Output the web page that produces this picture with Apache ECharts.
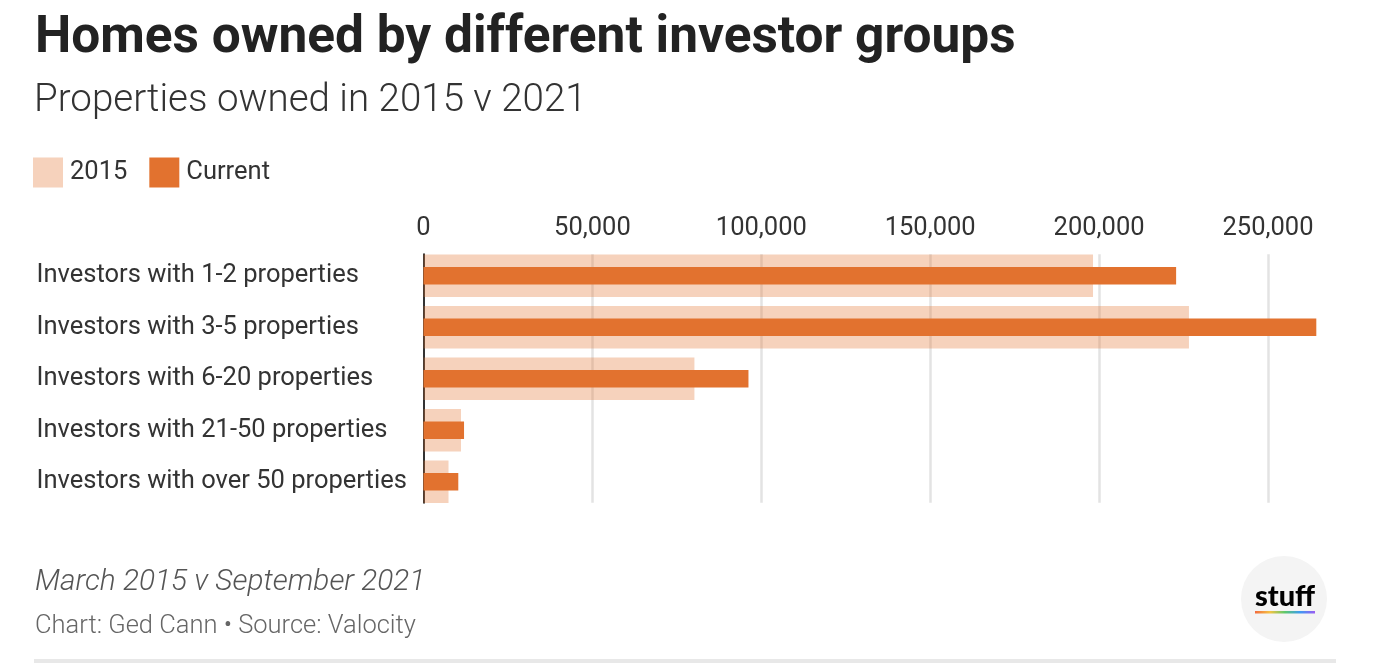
<!DOCTYPE html>
<html>
<head>
<meta charset="utf-8">
<script src="https://cdn.jsdelivr.net/npm/echarts@6/dist/echarts.min.js"></script>
<style>
html,body{margin:0;padding:0;background:#fff;}
#chart{width:1398px;height:670px;}
</style>
</head>
<body>
<div id="chart"></div>
<script>
const titleText = "Homes owned by different investor groups";
const subtitleText = "Properties owned in 2015 v 2021";
const noteText = "March 2015 v September 2021";
const creditText = "Chart: Ged Cann \u2022 Source: Valocity";
const categories = [
  "Investors with 1-2 properties",
  "Investors with 3-5 properties",
  "Investors with 6-20 properties",
  "Investors with 21-50 properties",
  "Investors with over 50 properties"
];
const seriesNames = ["2015", "Current"];
const values2015 = [198200, 226600, 80200, 11100, 7400];
const valuesCurrent = [222800, 264300, 96200, 12000, 10300];
const tickValues = [0, 50000, 100000, 150000, 200000, 250000];

const FONT = "Roboto";
const xMax = 265000;
const gridLeft = 423.5;
const gridWidth = xMax * 168.9 / 50000;

const chart = echarts.init(document.getElementById('chart'), null, {renderer: 'canvas'});

const option = {
  backgroundColor: '#ffffff',
  animation: false,
  legend: {
    left: 33, top: 157.5, padding: 0,
    itemWidth: 30, itemHeight: 30, itemGap: 22,
    icon: 'rect',
    textStyle: {fontFamily: FONT, fontSize: 25.5, color: '#333', padding: [3, 0, 0, 2]},
    data: seriesNames
  },
  grid: [
    {left: gridLeft, width: gridWidth, top: 250, height: 257.5},
    {left: gridLeft, width: gridWidth, top: 254.25, height: 248.5}
  ],
  xAxis: [
    {
      type: 'value', gridIndex: 0, position: 'top', min: 0, max: xMax, interval: 50000,
      axisLine: {show: false}, axisTick: {show: false}, splitLine: {show: false},
      axisLabel: {
        show: true, margin: 8, color: '#333', fontFamily: FONT, fontSize: 25.5,
        showMaxLabel: false,
        formatter: v => tickValues.includes(v) ? v.toLocaleString('en-US') : ''
      }
    },
    {
      type: 'value', gridIndex: 1, position: 'top', min: 0, max: xMax, interval: 50000,
      axisLine: {show: false}, axisTick: {show: false}, axisLabel: {show: false},
      splitLine: {show: true, showMinLine: false, showMaxLine: false, lineStyle: {color: '#e3e3e3', width: 2.5}}
    }
  ],
  yAxis: [
    {
      type: 'category', gridIndex: 0, data: categories, inverse: true,
      axisLine: {show: false}, axisTick: {show: false},
      axisLabel: {
        align: 'left', margin: gridLeft - 36.5, color: '#333', fontFamily: FONT, fontSize: 25.5,
        padding: [5, 0, 0, 0]
      }
    },
    {
      type: 'category', gridIndex: 0, data: categories, inverse: true, show: false
    },
    {
      type: 'category', gridIndex: 1, data: categories, inverse: true,
      axisLine: {show: true, lineStyle: {color: '#333', width: 2}},
      axisTick: {show: false}, axisLabel: {show: false}, splitLine: {show: false}
    }
  ],
  series: [
    {
      name: seriesNames[0], type: 'bar', xAxisIndex: 0, yAxisIndex: 0,
      data: values2015, barWidth: 42.5, z: 1,
      itemStyle: {color: '#e2722f', opacity: 0.32}
    },
    {
      name: seriesNames[1], type: 'bar', xAxisIndex: 0, yAxisIndex: 1,
      data: valuesCurrent, barWidth: 17.3, z: 3,
      itemStyle: {color: '#e2722f'}
    }
  ],
  graphic: [
    {type: 'text', left: 35, top: 14, z: 10,
      style: {text: titleText, font: 'bold 51.4px ' + FONT, fill: '#222'}},
    {type: 'text', left: 34, top: 82, z: 10,
      style: {text: subtitleText, font: '300 38.5px ' + FONT, fill: '#333'}},
    {type: 'text', left: 35, top: 568, z: 10,
      style: {text: noteText, font: 'italic 300 29.8px ' + FONT, fill: '#555'}},
    {type: 'text', left: 35, top: 614, z: 10,
      style: {text: creditText, font: '300 25.5px ' + FONT, fill: '#666'}},
    {type: 'rect', shape: {x: 34, y: 659, width: 1302, height: 4}, style: {fill: '#e8e8e8'}},
    {type: 'circle', shape: {cx: 1284, cy: 599, r: 43}, style: {fill: '#f4f4f4'}},
    {type: 'text', x: 1285, y: 597, z: 10,
      style: {text: 'stuff', font: '900 29px Lato', fill: '#000', align: 'center', verticalAlign: 'middle'}},
    {type: 'rect', shape: {x: 1255, y: 611, width: 60, height: 2.5}, z: 10,
      style: {fill: new echarts.graphic.LinearGradient(0, 0, 1, 0, [
        {offset: 0, color: '#f26a3d'}, {offset: 0.25, color: '#f5c242'},
        {offset: 0.5, color: '#5cc96b'}, {offset: 0.75, color: '#3d9bf2'},
        {offset: 1, color: '#9b5cf2'}])}}
  ]
};
chart.setOption(option);
</script>
</body>
</html>
